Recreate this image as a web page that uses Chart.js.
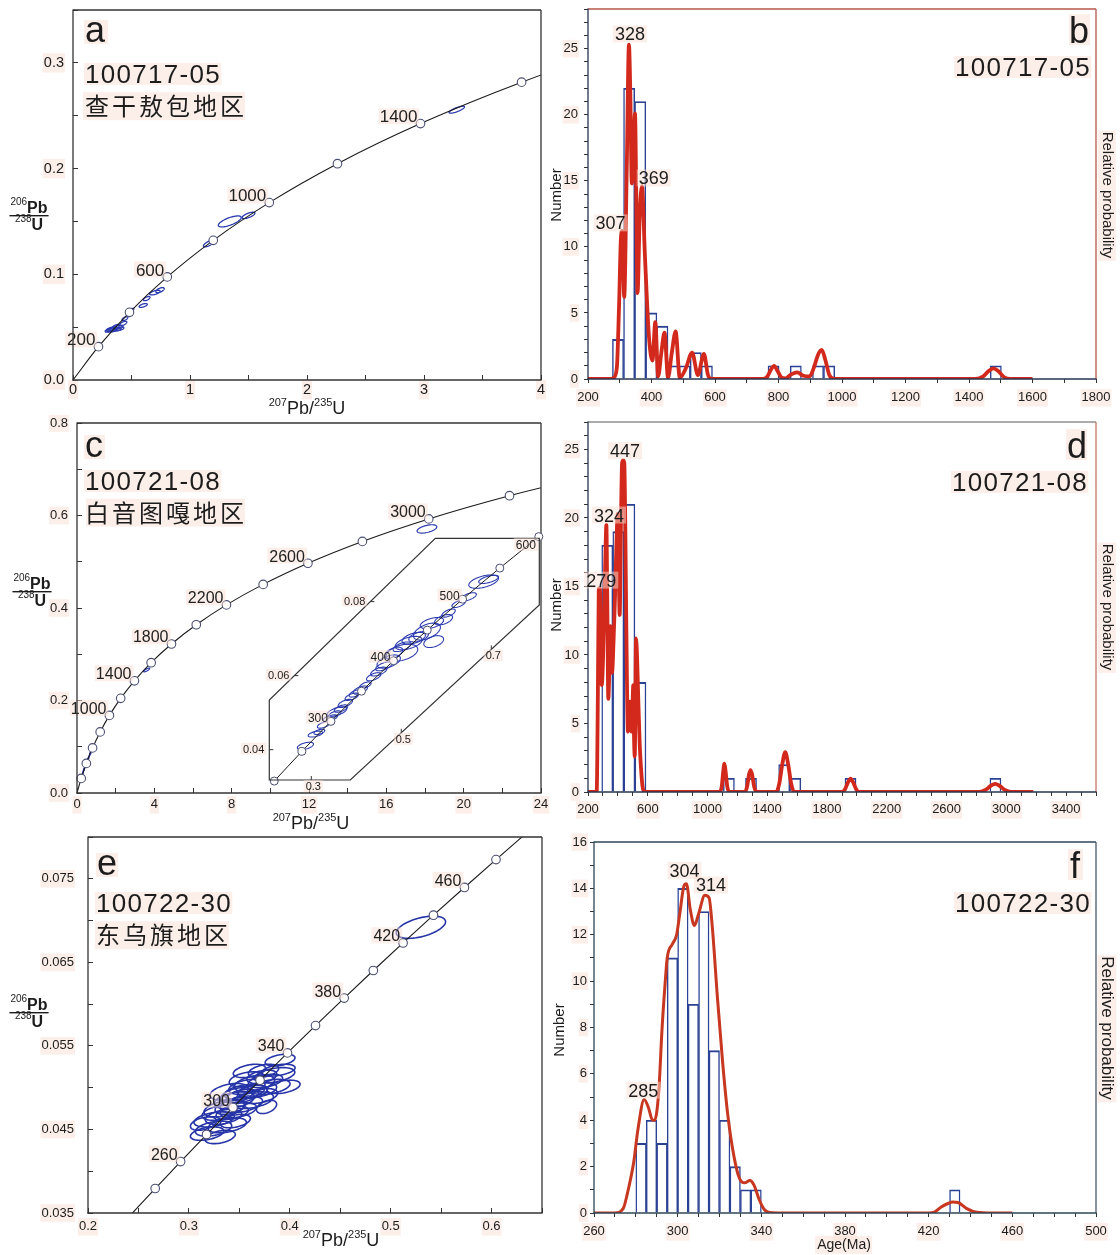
<!DOCTYPE html>
<html lang="zh">
<head>
<meta charset="utf-8">
<title>U-Pb concordia and age histograms</title>
<script src="https://cdn.jsdelivr.net/npm/chart.js@4.4.1/dist/chart.umd.min.js"></script>
<style>
  html, body { margin: 0; padding: 0; background: #fff; }
  #page { position: relative; width: 1120px; height: 1255px; overflow: hidden; background: #fff; }
  #page canvas { position: absolute; }
</style>
</head>
<body>
<div id="page"></div>
<script>
/* ===== DATA ===== */
// concordia for a and c (age Ma, 207Pb/235U, 206Pb/238U)
const CONC_AGE = [0, 200, 400, 600, 800, 1000, 1200, 1400, 1600, 1800, 2000, 2200, 2400, 2600, 2800, 3000, 3200, 3400];
const CONC_X = [0, 0.2177, 0.4828, 0.8056, 1.1987, 1.6774, 2.2603, 2.9701, 3.8344, 4.8869, 6.1685, 7.7292, 9.6296, 11.9437, 14.7617, 18.1931, 22.3716, 27.4597];
const CONC_Y = [0, 0.03151, 0.06402, 0.09755, 0.13213, 0.16780, 0.20460, 0.24256, 0.28172, 0.32211, 0.36377, 0.40674, 0.45107, 0.49679, 0.54396, 0.59261, 0.64280, 0.69456];
const A_AGE_LABELS = [200, 600, 1000, 1400];
const C_AGE_LABELS = [1000, 1400, 1800, 2200, 2600, 3000];

// concordia for e
const E_CONC_AGE = [220, 240, 260, 280, 300, 320, 340, 360, 380, 400, 420, 440, 460, 480, 500];
const E_CONC_X = [0.2419, 0.2666, 0.2918, 0.3175, 0.3437, 0.3705, 0.3977, 0.4255, 0.4539, 0.4828, 0.5123, 0.5424, 0.5731, 0.6044, 0.6363];
const E_CONC_Y = [0.03472, 0.03793, 0.04116, 0.04439, 0.04764, 0.05089, 0.05416, 0.05743, 0.06072, 0.06402, 0.06732, 0.07064, 0.07396, 0.07730, 0.08065];
const E_AGE_LABELS = [260, 300, 340, 380, 420, 460];

// concordia for the inset of c
const INSET_AGE = [200, 250, 300, 350, 400, 450, 500, 550, 600];
const INSET_X = [0.2177, 0.2792, 0.3437, 0.4116, 0.4828, 0.5577, 0.6363, 0.7189, 0.8056];
const INSET_Y = [0.03151, 0.03954, 0.04764, 0.05579, 0.06402, 0.07230, 0.08065, 0.08906, 0.09755];
const INSET_AGE_LABELS = [300, 400, 500, 600];
const INSET_XTICKS = [0.3, 0.5, 0.7];
const INSET_YTICKS = [0.04, 0.06, 0.08];

// error ellipses: [207/235, 206/238, half width, half height, rho]
const A_ELL = [
  [0.305, 0.0470, 0.030, 0.0018, 0.6], [0.320, 0.0480, 0.035, 0.0020, 0.6],
  [0.345, 0.0482, 0.040, 0.0019, 0.5], [0.366, 0.0505, 0.032, 0.0020, 0.6],
  [0.387, 0.0500, 0.040, 0.0018, 0.5], [0.400, 0.0485, 0.035, 0.0017, 0.5],
  [0.335, 0.0470, 0.038, 0.0017, 0.5], [0.375, 0.0478, 0.036, 0.0016, 0.5],
  [0.430, 0.0535, 0.030, 0.0020, 0.6], [0.444, 0.0580, 0.025, 0.0018, 0.6],
  [0.500, 0.0660, 0.020, 0.0018, 0.6], [0.600, 0.0705, 0.035, 0.0018, 0.6],
  [0.630, 0.0770, 0.028, 0.0020, 0.6], [0.700, 0.0827, 0.045, 0.0022, 0.6],
  [0.744, 0.0850, 0.036, 0.0024, 0.6], [1.160, 0.1290, 0.045, 0.0030, 0.7],
  [1.340, 0.1500, 0.098, 0.0052, 0.7], [1.500, 0.1557, 0.055, 0.0030, 0.7],
  [3.280, 0.2557, 0.066, 0.0033, 0.8]
];
const C_ELL = [[18.1, 0.571, 0.51, 0.009, 0.5], [3.6, 0.266, 0.16, 0.004, 0.8]];
const C_INSET_ELL = [
  [0.287, 0.0410, 0.018, 0.0010, 0.5], [0.309, 0.0442, 0.016, 0.0008, 0.5],
  [0.318, 0.0448, 0.012, 0.0007, 0.5], [0.3275, 0.0467, 0.014, 0.0009, 0.6],
  [0.342, 0.0485, 0.016, 0.0009, 0.6], [0.357, 0.0503, 0.022, 0.0013, 0.6],
  [0.366, 0.0511, 0.015, 0.0010, 0.6], [0.3756, 0.0525, 0.016, 0.0011, 0.6],
  [0.390, 0.0543, 0.015, 0.0010, 0.6], [0.409, 0.0561, 0.016, 0.0011, 0.6],
  [0.420, 0.0574, 0.013, 0.0009, 0.6], [0.4387, 0.0597, 0.016, 0.0011, 0.6],
  [0.4498, 0.0611, 0.018, 0.0012, 0.6], [0.472, 0.0638, 0.026, 0.0018, 0.5],
  [0.483, 0.0661, 0.020, 0.0016, 0.5], [0.5016, 0.0662, 0.035, 0.0023, 0.4],
  [0.5016, 0.0678, 0.020, 0.0013, 0.6], [0.5164, 0.0688, 0.030, 0.0018, 0.5],
  [0.5276, 0.0701, 0.026, 0.0016, 0.5], [0.5387, 0.0705, 0.022, 0.0014, 0.5],
  [0.557, 0.0719, 0.030, 0.0023, 0.5], [0.572, 0.0692, 0.022, 0.0016, 0.4],
  [0.568, 0.0742, 0.026, 0.0015, 0.5], [0.594, 0.0751, 0.020, 0.0014, 0.5],
  [0.605, 0.0769, 0.015, 0.0011, 0.6], [0.6275, 0.0794, 0.015, 0.0010, 0.6],
  [0.6498, 0.0813, 0.017, 0.0011, 0.6], [0.683, 0.0854, 0.033, 0.0018, 0.5],
  [0.694, 0.0860, 0.022, 0.0011, 0.6], [0.352, 0.0496, 0.014, 0.0009, 0.6],
  [0.398, 0.0552, 0.014, 0.0010, 0.6], [0.461, 0.0625, 0.018, 0.0012, 0.6]
];
const E_ELL = [
  [0.3904, 0.0533, 0.0148, 0.0007, 0.4], [0.3888, 0.0521, 0.0165, 0.0007, 0.4],
  [0.3937, 0.0501, 0.0165, 0.0008, 0.4], [0.3805, 0.0501, 0.0198, 0.0009, 0.4],
  [0.3723, 0.0513, 0.0148, 0.0008, 0.4], [0.3575, 0.0501, 0.0180, 0.0009, 0.4],
  [0.3624, 0.0485, 0.0214, 0.0010, 0.4], [0.3476, 0.0491, 0.0160, 0.0009, 0.4],
  [0.3770, 0.0477, 0.0100, 0.0008, 0.4], [0.3490, 0.0473, 0.0180, 0.0009, 0.4],
  [0.3410, 0.0477, 0.0150, 0.0009, 0.4], [0.3343, 0.0465, 0.0180, 0.0009, 0.4],
  [0.3244, 0.0451, 0.0180, 0.0009, 0.4], [0.3180, 0.0445, 0.0165, 0.0008, 0.4],
  [0.3310, 0.0441, 0.0150, 0.0008, 0.4], [0.3145, 0.0457, 0.0130, 0.0008, 0.4],
  [0.3550, 0.0495, 0.0200, 0.0009, 0.4], [0.3650, 0.0505, 0.0200, 0.0010, 0.4],
  [0.3450, 0.0485, 0.0200, 0.0010, 0.4], [0.3700, 0.0490, 0.0180, 0.0009, 0.4],
  [0.3350, 0.0475, 0.0200, 0.0010, 0.4], [0.3600, 0.0520, 0.0160, 0.0008, 0.4],
  [0.3250, 0.0462, 0.0200, 0.0009, 0.4], [0.3850, 0.0515, 0.0200, 0.0009, 0.4],
  [0.3400, 0.0495, 0.0190, 0.0010, 0.4], [0.3520, 0.0480, 0.0210, 0.0010, 0.4],
  [0.3680, 0.0497, 0.0190, 0.0009, 0.4], [0.3380, 0.0455, 0.0190, 0.0009, 0.4],
  [0.3570, 0.0510, 0.0170, 0.0009, 0.4], [0.3760, 0.0508, 0.0170, 0.0008, 0.4],
  [0.3300, 0.0470, 0.0170, 0.0009, 0.4], [0.3460, 0.0460, 0.0150, 0.0008, 0.4],
  [0.3530, 0.0490, 0.0160, 0.0008, 0.4], [0.3630, 0.0495, 0.0150, 0.0008, 0.4],
  [0.3430, 0.0470, 0.0160, 0.0008, 0.4], [0.3740, 0.0520, 0.0150, 0.0008, 0.4],
  [0.5300, 0.0692, 0.0244, 0.00133, 0.5]
];

// histogram b (100717-05)
const B_BIN_WIDTH = 35;
const B_BIN_START = [277, 312, 347, 382, 417, 452, 487, 522, 557, 767, 837, 907, 942, 1467];
const B_BIN_COUNT = [3, 22, 21, 5, 4, 1, 1, 2, 1, 1, 1, 1, 1, 1];
const B_PDP_AGE = [200, 272, 281, 291, 298, 304, 308, 314, 322, 329, 333, 338, 343, 348, 352, 356, 363, 370, 379, 392, 403, 412, 421, 431, 441, 452, 464, 476, 489, 508, 528, 546, 565, 578, 590, 750, 765, 776, 786, 797, 810, 822, 840, 859, 878, 898, 912, 924, 936, 948, 960, 975, 1420, 1445, 1462, 1477, 1492, 1510, 1530, 1600];
const B_PDP_VAL = [0, 0, 0.1, 0.9, 5.7, 10.8, 11.2, 6.2, 15.8, 25.3, 22, 14.8, 17, 20.1, 14, 6.5, 12.5, 14.6, 9.5, 3.2, 1.4, 4.3, 0.2, 2.0, 3.5, 0.1, 2.0, 3.6, 0.1, 0.8, 2.0, 0.3, 1.9, 0.3, 0, 0, 0.2, 0.7, 1.0, 0.6, 0.1, 0.05, 0.35, 0.5, 0.25, 0.2, 0.9, 1.8, 2.2, 1.4, 0.3, 0, 0, 0.2, 0.6, 0.8, 0.6, 0.15, 0, 0];
const B_PEAK_TEXT = ['307', '328', '369'];
const B_PEAK_X = [271, 332, 407];
const B_PEAK_Y = [11.7, 26.0, 15.1];

// histogram d (100721-08)
const D_BIN_WIDTH = 74;
const D_BIN_START = [292, 366, 440, 514, 1106, 1254, 1476, 1550, 1920, 2890];
const D_BIN_COUNT = [18, 19, 21, 8, 1, 1, 2, 1, 1, 1];
const D_PDP_AGE = [200, 258, 266, 272, 279, 286, 292, 300, 310, 318, 323, 329, 336, 343, 350, 356, 361, 371, 381, 390, 399, 406, 412, 420, 428, 436, 443, 450, 456, 462, 467, 474, 481, 486, 490, 497, 503, 508, 513, 517, 521, 528, 537, 546, 555, 565, 575, 590, 1080, 1095, 1105, 1113, 1121, 1132, 1148, 1250, 1265, 1278, 1288, 1298, 1312, 1328, 1460, 1480, 1500, 1520, 1540, 1560, 1580, 1900, 1920, 1940, 1957, 1975, 1995, 2015, 2820, 2860, 2895, 2925, 2955, 2990, 3030, 3180];
const D_PDP_VAL = [0, 0, 7, 14.8, 14.9, 11, 7.8, 9.5, 13.8, 18, 19.5, 14, 6.8, 9, 12.1, 10, 8.7, 11, 14.3, 18, 20.3, 16, 12.9, 19, 24.0, 24.2, 24.0, 19, 12.6, 7, 4.4, 5.8, 6.6, 5.5, 4.4, 6, 7.8, 4, 2.6, 6, 11.2, 10, 6.6, 3.5, 1.7, 0.4, 0.05, 0, 0, 0.4, 1.5, 2.06, 1.5, 0.4, 0, 0, 0.4, 1.3, 1.6, 1.3, 0.4, 0, 0, 0.6, 2.0, 2.9, 2.0, 0.6, 0, 0, 0.2, 0.7, 0.97, 0.7, 0.2, 0, 0, 0.15, 0.45, 0.6, 0.45, 0.15, 0, 0];
const D_PEAK_TEXT = ['279', '324', '447'];
const D_PEAK_X = [289, 341, 448];
const D_PEAK_Y = [15.35, 20.1, 24.8];

// histogram f (100722-30)
const F_BIN_WIDTH = 5;
const F_BIN_START = [280, 285, 290, 295, 300, 305, 310, 315, 320, 325, 330, 335, 430];
const F_BIN_COUNT = [3, 4, 3, 11, 14, 9, 13, 7, 4, 2, 1, 1, 1];
const F_PDP_AGE = [260, 270, 274, 276, 279, 281, 284, 286, 288, 289, 291, 292.5, 294, 295, 297.5, 299.5, 301, 303, 304.2, 306, 308, 310, 313, 315, 316.5, 319, 321.5, 324, 327, 329.5, 332, 334.5, 336.5, 339, 341.5, 344, 350, 420, 423, 426, 429.5, 431.5, 434, 438, 443, 450, 460];
const F_PDP_VAL = [0, 0, 0.2, 0.86, 2.2, 3.6, 4.9, 4.55, 4.0, 4.0, 5.3, 7.9, 9.9, 11.0, 11.6, 12.0, 12.9, 14.1, 14.2, 13.1, 12.4, 12.9, 13.7, 13.6, 12.4, 9.3, 6.5, 4.2, 2.4, 1.5, 1.3, 1.4, 1.2, 0.57, 0.14, 0.02, 0, 0, 0.05, 0.26, 0.42, 0.47, 0.45, 0.2, 0.03, 0, 0];
const F_PEAK_TEXT = ['285', '304', '314'];
const F_PEAK_X = [283.6, 303.3, 315.9];
const F_PEAK_Y = [5.23, 14.7, 14.08];

/* ===== LAYOUT ===== */
const GEO = {
  a: { x: 0, y: 0, w: 560, h: 418, l: 73, t: 10, r: 541, b: 380 },
  b: { x: 545, y: 0, w: 575, h: 418, l: 588, t: 9, r: 1096, b: 379 },
  c: { x: 0, y: 415, w: 560, h: 418, l: 77, t: 423, r: 541, b: 793 },
  d: { x: 545, y: 415, w: 575, h: 418, l: 588, t: 422, r: 1096, b: 792 },
  e: { x: 0, y: 830, w: 560, h: 425, l: 88, t: 837, r: 542, b: 1213 },
  f: { x: 545, y: 830, w: 575, h: 425, l: 594, t: 842, r: 1096, b: 1213 },
  inset: { x: 240, y: 520, w: 320, h: 285, l: 269.3, t: 538.3, r: 539.3, b: 780, bare: true }
};
const INSET_FRAME = [[0.2067, 0.0318], [0.3867, 0.0318], [0.8067, 0.0791], [0.8067, 0.0971], [0.5756, 0.0971], [0.2067, 0.0534]];

const FONT = '"Liberation Sans", Arial, Helvetica, sans-serif';
const CJK = '"Noto Sans CJK SC", "Noto Sans CJK TC", sans-serif';
const HALO = 'rgba(250,224,212,0.5)';
const INK = '#1c1c1c';
const ELL_BLUE = '#2b3bb0';
const MARK = '#4a4f72';
const page = document.getElementById('page');

function onStep(v, base, step) { const k = (v - base) / step; return Math.abs(k - Math.round(k)) < 1e-6; }

function makeChart(g, config) {
  const cv = document.createElement('canvas');
  cv.width = g.w; cv.height = g.h;
  Object.assign(cv.style, { left: g.x + 'px', top: g.y + 'px', width: g.w + 'px', height: g.h + 'px' });
  page.appendChild(cv);
  const pad = { top: g.t - g.y, right: g.x + g.w - g.r, left: g.bare ? g.l - g.x : 0, bottom: g.bare ? g.y + g.h - g.b : 0 };
  config.options = Object.assign({
    responsive: false, animation: false, events: [], devicePixelRatio: 1,
    layout: { autoPadding: false, padding: pad }
  }, config.options);
  config.options.plugins = { legend: { display: false }, tooltip: { enabled: false } };
  return new Chart(cv, config);
}

function axis(g, horiz, r) {
  return {
    type: 'linear', min: r.min, max: r.max, offset: false,
    afterBuildTicks: s => {
      const n = Math.round((r.max - r.min) / r.step), list = [];
      for (let i = 0; i <= n; i++) list.push({ value: +(r.min + i * r.step).toFixed(6) });
      s.ticks = list;
    },
    afterFit: s => {
      if (horiz) s.height = g.y + g.h - g.b; else s.width = g.l - g.x;
      // keep the plot box where the layout puts it
      s.paddingTop = s.paddingBottom = s.paddingLeft = s.paddingRight = 0;
    },
    grid: { drawOnChartArea: false, drawTicks: true, offset: false, tickLength: r.inward ? -5 : 4, tickColor: '#333', tickWidth: 1 },
    border: { display: false },
    ticks: {
      autoSkip: false, maxRotation: 0, minRotation: 0, padding: r.pad, color: INK,
      font: { family: FONT, size: r.size || 13 },
      callback: v => onStep(v, r.base, r.major) ? r.fmt(v) : '',
      showLabelBackdrop: true, backdropPadding: 1,
      backdropColor: c => (c.tick && c.tick.label) ? HALO : 'rgba(0,0,0,0)'
    }
  };
}

/* ===== DRAW HELPERS ===== */
function put(ctx, s, x, y, o) {
  ctx.save();
  ctx.font = o.font; ctx.textAlign = o.align || 'left'; ctx.textBaseline = o.base || 'alphabetic';
  if (o.spacing) ctx.letterSpacing = o.spacing;
  ctx.translate(x, y);
  if (o.rot) ctx.rotate(o.rot);
  if (o.halo) {
    const m = ctx.measureText(s);
    ctx.fillStyle = HALO;
    ctx.fillRect(-m.actualBoundingBoxLeft - 2, -m.actualBoundingBoxAscent - 2,
      m.actualBoundingBoxLeft + m.actualBoundingBoxRight + 4, m.actualBoundingBoxAscent + m.actualBoundingBoxDescent + 4);
  }
  ctx.fillStyle = o.color || INK;
  ctx.fillText(s, 0, 0);
  ctx.restore();
}

function frame(ctx, a, cols) {
  const seg = (c, x1, y1, x2, y2) => { ctx.strokeStyle = c; ctx.beginPath(); ctx.moveTo(x1, y1); ctx.lineTo(x2, y2); ctx.stroke(); };
  ctx.save(); ctx.lineWidth = 1.3;
  seg(cols[0], a.left, a.top, a.right, a.top);
  seg(cols[1], a.right, a.top, a.right, a.bottom);
  seg(cols[2], a.left - 0.6, a.bottom, a.right + 0.6, a.bottom);
  seg(cols[3], a.left, a.top - 0.6, a.left, a.bottom + 0.6);
  ctx.restore();
}

function drawEllipses(chart, list, color, lw) {
  const { ctx, scales: { x, y } } = chart;
  ctx.save();
  ctx.strokeStyle = color; ctx.lineWidth = lw;
  list.forEach(([cx, cy, sx, sy, r]) => {
    ctx.beginPath();
    for (let k = 0; k <= 60; k++) {
      const t = k / 60 * 2 * Math.PI;
      const px = x.getPixelForValue(cx + sx * Math.cos(t));
      const py = y.getPixelForValue(cy + sy * (r * Math.cos(t) + Math.sqrt(1 - r * r) * Math.sin(t)));
      if (k) ctx.lineTo(px, py); else ctx.moveTo(px, py);
    }
    ctx.closePath(); ctx.stroke();
  });
  ctx.restore();
}

function ageLabels(chart, ages, A, X, Y, size, dx, dy, extraDy) {
  const { ctx, scales: { x, y } } = chart;
  ages.forEach(age => {
    const i = A.indexOf(age);
    const off = (extraDy && extraDy[age]) || 0;
    put(ctx, String(age), x.getPixelForValue(X[i]) - dx, y.getPixelForValue(Y[i]) - dy + off,
      { font: size + 'px ' + FONT, align: 'right', base: 'middle', halo: true, color: '#222' });
  });
}

function fracTitle(ctx, g, cx, barY) {
  const big = 'bold 16px ' + FONT, sm = '10px ' + FONT;
  ctx.save(); ctx.fillStyle = INK; ctx.textBaseline = 'alphabetic'; ctx.textAlign = 'left';
  const part = (sup, main, base) => {
    ctx.font = sm; const w1 = ctx.measureText(sup).width;
    ctx.font = big; const w2 = ctx.measureText(main).width;
    const x0 = cx - g.x - (w1 + w2) / 2;
    ctx.font = sm; ctx.fillText(sup, x0, base - 8);
    ctx.font = big; ctx.fillText(main, x0 + w1, base);
    return [x0, w1 + w2];
  };
  const [x0, w] = part('206', 'Pb', barY - g.y - 2);
  ctx.fillRect(x0 - 1, barY - g.y, w + 2, 1.4);
  part('238', 'U', barY - g.y + 15);
  ctx.restore();
}

function ratioTitle(ctx, g, cx, baseY) {
  const big = '18px ' + FONT, sm = '11px ' + FONT;
  const segs = [['207', sm, -8], ['Pb/', big, 0], ['235', sm, -8], ['U', big, 0]];
  ctx.save(); ctx.fillStyle = INK; ctx.textBaseline = 'alphabetic'; ctx.textAlign = 'left';
  let total = 0;
  segs.forEach(s => { ctx.font = s[1]; total += ctx.measureText(s[0]).width; });
  let xx = cx - g.x - total / 2;
  segs.forEach(s => { ctx.font = s[1]; ctx.fillText(s[0], xx, baseY - g.y + s[2]); xx += ctx.measureText(s[0]).width; });
  ctx.restore();
}

/* ===== CONCORDIA PANELS ===== */
function concPanel(key, o) {
  const g = GEO[key];
  const line = o.age.map((a, i) => ({ x: o.X[i], y: o.Y[i] }));
  const marks = o.age.map((a, i) => ({ x: o.X[i], y: o.Y[i], a }))
    .filter(p => p.a > 0 && p.x <= o.xr.max && p.y <= o.yr.max && p.x >= o.xr.min && p.y >= o.yr.min);
  return makeChart(g, {
    type: 'scatter',
    data: { datasets: [
      { data: marks, pointRadius: 4.3, pointBackgroundColor: '#fff', pointBorderColor: MARK, pointBorderWidth: 1.1, showLine: false, clip: 6 },
      { data: line, showLine: true, pointRadius: 0, borderColor: '#1a1a1a', borderWidth: 1.1, cubicInterpolationMode: 'monotone' }
    ]},
    options: { scales: { x: axis(g, true, o.xr), y: axis(g, false, o.yr) } },
    plugins: [{
      id: 'conc_' + key,
      beforeDatasetsDraw(ch) {
        const a = ch.chartArea, ctx = ch.ctx;
        ctx.save(); ctx.beginPath(); ctx.rect(a.left, a.top, a.right - a.left, a.bottom - a.top); ctx.clip();
        o.ell.forEach(list => drawEllipses(ch, list, o.ellColor || ELL_BLUE, o.ellWidth));
        ctx.restore();
      },
      afterDatasetsDraw(ch) {
        ageLabels(ch, o.labels, o.age, o.X, o.Y, o.labelSize, 3, 6);
      },
      afterDraw(ch) {
        const ctx = ch.ctx;
        frame(ctx, ch.chartArea, ['#333', '#333', '#333', '#333']);
        const t = o.text;
        put(ctx, t.letter, t.lx - g.x, t.ly - g.y, { font: '36px ' + FONT, halo: true });
        put(ctx, t.sample, t.sx - g.x, t.sy - g.y, { font: '26px ' + FONT, spacing: '1.3px', halo: true });
        put(ctx, t.region, t.rx - g.x, t.ry - g.y, { font: '24px ' + CJK, base: 'middle', spacing: '3px', halo: true });
        fracTitle(ctx, g, t.yTitleX, t.yTitleBar);
        ratioTitle(ctx, g, t.xTitleX, t.xTitleY);
      }
    }]
  });
}

concPanel('a', {
  age: CONC_AGE, X: CONC_X, Y: CONC_Y, labels: A_AGE_LABELS, labelSize: 17, ell: [A_ELL], ellWidth: 1.3,
  xr: { min: 0, max: 4, step: 0.5, base: 0, major: 1, fmt: v => String(Math.round(v)), inward: true, pad: 6, size: 14.5 },
  yr: { min: 0, max: 0.35, step: 0.05, base: 0, major: 0.1, fmt: v => v.toFixed(1), inward: true, pad: 14, size: 14.5 },
  text: { letter: 'a', lx: 85, ly: 42, sample: '100717-05', sx: 85, sy: 83, region: '查干敖包地区', rx: 85, ry: 106,
    yTitleX: 29, yTitleBar: 215, xTitleX: 307, xTitleY: 414 }
});

concPanel('c', {
  age: CONC_AGE, X: CONC_X, Y: CONC_Y, labels: C_AGE_LABELS, labelSize: 16, ell: [C_ELL, C_INSET_ELL], ellWidth: 1.2,
  xr: { min: 0, max: 24, step: 2, base: 0, major: 4, fmt: v => String(Math.round(v)), inward: true, pad: 9 },
  yr: { min: 0, max: 0.8, step: 0.1, base: 0, major: 0.2, fmt: v => v.toFixed(1), inward: true, pad: 14 },
  text: { letter: 'c', lx: 85, ly: 457, sample: '100721-08', sx: 85, sy: 490, region: '白音图嘎地区', rx: 85, ry: 512.5,
    yTitleX: 32, yTitleBar: 591, xTitleX: 311, xTitleY: 829 }
});

concPanel('e', {
  age: E_CONC_AGE, X: E_CONC_X, Y: E_CONC_Y, labels: E_AGE_LABELS, labelSize: 16, ell: [E_ELL], ellWidth: 1.6, ellColor: '#2634a8',
  xr: { min: 0.2, max: 0.65, step: 0.05, base: 0, major: 0.1, fmt: v => v.toFixed(1), inward: true, pad: 11 },
  yr: { min: 0.035, max: 0.08, step: 0.005, base: 0.035, major: 0.01, fmt: v => v.toFixed(3), inward: true, pad: 19 },
  text: { letter: 'e', lx: 97, ly: 875, sample: '100722-30', sx: 96, sy: 912, region: '东乌旗地区', rx: 96, ry: 935,
    yTitleX: 29, yTitleBar: 1012, xTitleX: 341, xTitleY: 1246 }
});

/* ===== INSET OF c ===== */
(function insetPanel() {
  const g = GEO.inset;
  const [xmin, ymin] = INSET_FRAME[0], [xmax, ymax] = INSET_FRAME[3];
  const line = INSET_AGE.map((a, i) => ({ x: INSET_X[i], y: INSET_Y[i] }));
  const polyPx = ch => INSET_FRAME.map(([a, b]) => [ch.scales.x.getPixelForValue(a), ch.scales.y.getPixelForValue(b)]);
  const path = (ctx, p) => { ctx.beginPath(); p.forEach((q, i) => i ? ctx.lineTo(q[0], q[1]) : ctx.moveTo(q[0], q[1])); ctx.closePath(); };
  const cross = (edges, val, k) => {
    for (const [p, q] of edges) {
      if (p[k] !== q[k] && (val - p[k]) * (val - q[k]) <= 0) return p[1 - k] + (q[1 - k] - p[1 - k]) * (val - p[k]) / (q[k] - p[k]);
    }
    return null;
  };
  makeChart(g, {
    type: 'scatter',
    data: { datasets: [
      { data: line.slice(), pointRadius: 4, pointBackgroundColor: '#fff', pointBorderColor: MARK, pointBorderWidth: 1, showLine: false, clip: 8 },
      { data: line, showLine: true, pointRadius: 0, borderColor: '#1a1a1a', borderWidth: 1, cubicInterpolationMode: 'monotone' }
    ]},
    options: { scales: {
      x: { type: 'linear', display: false, min: xmin, max: xmax },
      y: { type: 'linear', display: false, min: ymin, max: ymax }
    }},
    plugins: [{
      id: 'inset',
      beforeDatasetsDraw(ch) {
        const ctx = ch.ctx, p = polyPx(ch);
        ctx.save(); path(ctx, p); ctx.fillStyle = '#fff'; ctx.fill(); ctx.clip();
        drawEllipses(ch, C_INSET_ELL, ELL_BLUE, 1.1);
        ctx.restore();
      },
      afterDatasetsDraw(ch) {
        const ctx = ch.ctx, p = polyPx(ch);
        ctx.save(); ctx.strokeStyle = '#333'; ctx.lineWidth = 1.2; path(ctx, p); ctx.stroke();
        ctx.lineWidth = 1;
        const left = [[p[0], p[5]], [p[5], p[4]]], bottom = [[p[0], p[1]], [p[1], p[2]]];
        INSET_YTICKS.forEach(v => {
          const yy = ch.scales.y.getPixelForValue(v), bx = cross(left, yy, 1);
          ctx.beginPath(); ctx.moveTo(bx, yy); ctx.lineTo(bx + 4, yy); ctx.stroke();
          put(ctx, v.toFixed(2), bx - 5, yy, { font: '11px ' + FONT, align: 'right', base: 'middle', halo: true });
        });
        INSET_XTICKS.forEach(v => {
          const xx = ch.scales.x.getPixelForValue(v), by = cross(bottom, xx, 0);
          ctx.beginPath(); ctx.moveTo(xx, by); ctx.lineTo(xx, by - 4); ctx.stroke();
          put(ctx, v.toFixed(1), xx + 2, by + 7, { font: '11px ' + FONT, align: 'center', base: 'middle', halo: true });
        });
        ctx.restore();
        ageLabels(ch, INSET_AGE_LABELS, INSET_AGE, INSET_X, INSET_Y, 12, 3, 3, { 600: 12 });
      }
    }]
  });
})();

/* ===== HISTOGRAM PANELS ===== */
function histPanel(key, o) {
  const g = GEO[key];
  return makeChart(g, {
    type: 'bar',
    data: { datasets: [
      { type: 'line', data: o.pdpAge.map((a, i) => ({ x: a, y: o.pdpVal[i] })), borderColor: o.red, borderWidth: o.lw,
        pointRadius: 0, cubicInterpolationMode: 'monotone', order: 0 },
      { type: 'bar', data: o.binStart.map((s, i) => ({ x: s + o.binW / 2, y: o.binCount[i] })),
        backgroundColor: 'rgba(255,255,255,0)', borderColor: '#2a4194',
        borderWidth: { top: 1.2, left: 0.8, right: 0.8, bottom: 0 },
        barPercentage: 1, categoryPercentage: 1, order: 1 }
    ]},
    options: { scales: { x: axis(g, true, o.xr), y: axis(g, false, o.yr) } },
    plugins: [{
      id: 'hist_' + key,
      afterDraw(ch) {
        const ctx = ch.ctx, a = ch.chartArea, sx = ch.scales.x, sy = ch.scales.y;
        frame(ctx, a, o.frame);
        o.peakText.forEach((s, i) => put(ctx, s, sx.getPixelForValue(o.peakX[i]), sy.getPixelForValue(o.peakY[i]),
          { font: '18px ' + FONT, align: 'center', base: 'middle', halo: true }));
        const t = o.text;
        put(ctx, t.letter, t.lx - g.x, t.ly - g.y, { font: '36px ' + FONT, align: 'right', halo: true });
        put(ctx, t.sample, t.sx - g.x, t.sy - g.y, { font: '26px ' + FONT, align: 'right', spacing: '1.3px', halo: true });
        put(ctx, 'Number', t.nx - g.x, t.ny - g.y, { font: '15px ' + FONT, align: 'center', base: 'middle', rot: -Math.PI / 2 });
        put(ctx, 'Relative probability', t.px - g.x, t.py - g.y, { font: t.pSize + 'px ' + FONT, align: 'center', base: 'middle', rot: Math.PI / 2, halo: true });
        if (t.age) put(ctx, 'Age(Ma)', t.ax - g.x, t.ay - g.y, { font: '14px ' + FONT, align: 'center', base: 'middle', halo: true });
      }
    }]
  });
}

histPanel('b', {
  binStart: B_BIN_START, binCount: B_BIN_COUNT, binW: B_BIN_WIDTH, pdpAge: B_PDP_AGE, pdpVal: B_PDP_VAL,
  peakText: B_PEAK_TEXT, peakX: B_PEAK_X, peakY: B_PEAK_Y, red: '#d2291c', lw: 3.8,
  frame: ['#b4574a', '#b4574a', '#27344f', '#27344f'],
  xr: { min: 200, max: 1800, step: 100, base: 200, major: 200, fmt: v => String(Math.round(v)), pad: 7 },
  yr: { min: 0, max: 28, step: 1, base: 0, major: 5, fmt: v => String(Math.round(v)), pad: 6 },
  text: { letter: 'b', lx: 1089, ly: 43, sample: '100717-05', sx: 1091, sy: 76, nx: 557, ny: 195, px: 1107, py: 195, pSize: 15 }
});

histPanel('d', {
  binStart: D_BIN_START, binCount: D_BIN_COUNT, binW: D_BIN_WIDTH, pdpAge: D_PDP_AGE, pdpVal: D_PDP_VAL,
  peakText: D_PEAK_TEXT, peakX: D_PEAK_X, peakY: D_PEAK_Y, red: '#d2291c', lw: 3.8,
  frame: ['#8f8f8f', '#c27563', '#27344f', '#27344f'],
  xr: { min: 200, max: 3600, step: 100, base: 200, major: 400, fmt: v => String(Math.round(v)), pad: 6 },
  yr: { min: 0, max: 27, step: 1, base: 0, major: 5, fmt: v => String(Math.round(v)), pad: 5 },
  text: { letter: 'd', lx: 1087, ly: 458, sample: '100721-08', sx: 1088, sy: 491, nx: 557, ny: 605, px: 1107, py: 607, pSize: 15 }
});

histPanel('f', {
  binStart: F_BIN_START, binCount: F_BIN_COUNT, binW: F_BIN_WIDTH, pdpAge: F_PDP_AGE, pdpVal: F_PDP_VAL,
  peakText: F_PEAK_TEXT, peakX: F_PEAK_X, peakY: F_PEAK_Y, red: '#c8371f', lw: 3,
  frame: ['#2d4656', '#4a5a6a', '#2d4656', '#2d4656'],
  xr: { min: 260, max: 500, step: 10, base: 260, major: 40, fmt: v => String(Math.round(v)), pad: 7 },
  yr: { min: 0, max: 16, step: 1, base: 0, major: 2, fmt: v => String(Math.round(v)), pad: 3 },
  text: { letter: 'f', lx: 1080, ly: 878, sample: '100722-30', sx: 1091, sy: 912, nx: 560, ny: 1030, px: 1107, py: 1028, pSize: 17,
    age: true, ax: 844, ay: 1245 }
});
</script>
</body>
</html>
